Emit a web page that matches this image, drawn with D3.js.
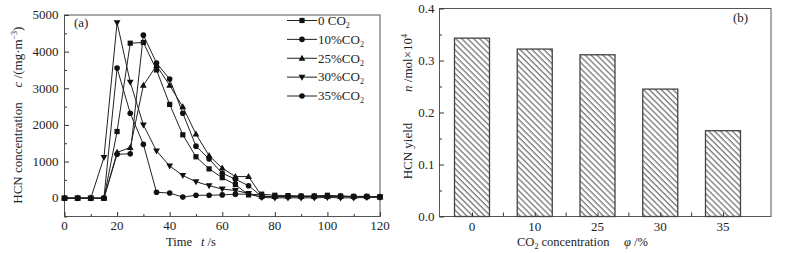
<!DOCTYPE html>
<html><head><meta charset="utf-8">
<script src="https://cdn.jsdelivr.net/npm/d3@7/dist/d3.min.js"></script>
<style>body{margin:0;background:#fff}svg{display:block}text{font-family:"Liberation Serif","Times New Roman",serif;fill:#222}</style>
</head><body>
<script>
// ---- data ----
const times = d3.range(0, 121, 5);
const seriesNames = ["0 CO", "10%CO", "25%CO", "30%CO", "35%CO"];
const s0  = [0,0,0,0,1820,4230,4250,3500,2560,1730,1130,800,560,370,90,110,80,70,60,60,80,60,50,50,40];
const s10 = [0,0,0,0,1200,1210,4450,3690,3250,2320,1420,1070,680,520,340,50,40,40,40,40,50,40,40,40,30];
const s25 = [0,0,0,0,1250,1380,3080,3620,3080,2490,1750,1160,820,590,590,60,40,50,40,50,40,50,40,40,30];
const s30 = [0,0,0,1110,4790,3170,2000,1290,880,620,450,340,250,210,130,20,10,10,10,10,20,10,10,20,30];
const s35 = [0,0,0,0,3550,2320,1470,160,140,30,80,80,90,110,110,30,50,50,50,50,50,50,40,40,30];
const markers = ["square","circle","triangle","triangleDown","circle"];
const xTicksA = [0,20,40,60,80,100,120];
const yTicksA = [0,1000,2000,3000,4000,5000];

const barCats = ["0","10","25","30","35"];
const barVals = [0.343,0.322,0.311,0.245,0.165];
const yTicksB = [0.0,0.1,0.2,0.3,0.4];

const W = 791, H = 253;
const svg = d3.select("body").append("svg").attr("width", W).attr("height", H);
const FS = 13, TS = 13, XS = 12.5;

// ---- pattern ----
const defs = svg.append("defs");
const pat = defs.append("pattern").attr("id","hatch").attr("patternUnits","userSpaceOnUse")
  .attr("width",4.2).attr("height",4.2).attr("patternTransform","rotate(-45)");
pat.append("rect").attr("width",4.2).attr("height",4.2).attr("fill","#fff");
pat.append("line").attr("x1",1).attr("y1",0).attr("x2",1).attr("y2",4.2).attr("stroke","#777").attr("stroke-width",1.3);

// ---- chart A ----
const A = {l:64.5, r:380, t:15, b:216.5};
const xA = d3.scaleLinear().domain([0,120]).range([A.l, A.r]);
const yA = d3.scaleLinear().domain([-500,5000]).range([A.b, A.t]);
const gA = svg.append("g");
gA.append("rect").attr("x",A.l).attr("y",A.t).attr("width",A.r-A.l).attr("height",A.b-A.t)
  .attr("fill","none").attr("stroke","#555").attr("stroke-width",1);
gA.append("g").attr("transform",`translate(${A.l},0)`).call(d3.axisRight(yA).tickValues(yTicksA).tickSize(4.5).tickFormat(""))
  .call(g=>g.select(".domain").remove()).selectAll("line").attr("stroke","#333");
gA.append("g").attr("transform",`translate(${A.l},0)`).call(d3.axisRight(yA).tickValues(d3.range(-500,5000,1000)).tickSize(2.5).tickFormat(""))
  .call(g=>g.select(".domain").remove()).selectAll("line").attr("stroke","#333");
gA.selectAll(".ylabA").data(yTicksA).join("text").attr("x",A.l-6).attr("y",d=>yA(d)+4.3)
  .attr("text-anchor","end").attr("font-size",FS).text(d=>d);
gA.append("g").attr("transform",`translate(0,${A.b})`).call(d3.axisTop(xA).tickValues(xTicksA).tickSize(4.5).tickFormat(""))
  .call(g=>g.select(".domain").remove()).selectAll("line").attr("stroke","#333");
gA.append("g").attr("transform",`translate(0,${A.b})`).call(d3.axisTop(xA).tickValues(d3.range(10,120,20)).tickSize(2.5).tickFormat(""))
  .call(g=>g.select(".domain").remove()).selectAll("line").attr("stroke","#333");
gA.selectAll(".xlabA").data(xTicksA).join("text").attr("x",d=>xA(d)).attr("y",A.b+13)
  .attr("text-anchor","middle").attr("font-size",FS).text(d=>d);
gA.append("text").attr("x",166).attr("y",246).attr("font-size",XS).text("Time");
const tt = gA.append("text").attr("x",201).attr("y",246).attr("font-size",XS);
tt.append("tspan").attr("font-style","italic").text("t");
tt.append("tspan").text(" /s");
gA.append("text").attr("transform","translate(22,153) rotate(-90)").attr("text-anchor","middle").attr("font-size",TS).text("HCN concentration");
const ct = gA.append("text").attr("transform","translate(22,57) rotate(-90)").attr("text-anchor","middle").attr("font-size",TS);
ct.append("tspan").attr("font-style","italic").text("c");
ct.append("tspan").text(" /(mg·m");
ct.append("tspan").attr("font-size",8).attr("dy",-5).text("−3");
ct.append("tspan").attr("dy",5).text(")");
gA.append("text").attr("x",74).attr("y",27).attr("font-size",FS).text("(a)");

function drawMarker(g, type, x, y){
  if(type==="square") g.append("rect").attr("x",x-2.6).attr("y",y-2.6).attr("width",5.2).attr("height",5.2).attr("fill","#111");
  else if(type==="circle") g.append("circle").attr("cx",x).attr("cy",y).attr("r",2.8).attr("fill","#111");
  else if(type==="triangle") g.append("path").attr("d",`M${x},${y-3.6}L${x+3.4},${y+2.4}L${x-3.4},${y+2.4}Z`).attr("fill","#111");
  else g.append("path").attr("d",`M${x},${y+3.6}L${x+3.4},${y-2.4}L${x-3.4},${y-2.4}Z`).attr("fill","#111");
}
const allSeries = [s0,s10,s25,s30,s35];
const line = d3.line().x((d,i)=>xA(times[i])).y(d=>yA(d));
allSeries.forEach((s,k)=>{
  gA.append("path").datum(s).attr("d",line).attr("fill","none").attr("stroke","#222").attr("stroke-width",1);
  const mg = gA.append("g");
  s.forEach((v,i)=>drawMarker(mg, markers[k], xA(times[i]), yA(v)));
});
const legY = d3.scalePoint().domain(seriesNames).range([20.5, 96]);
seriesNames.forEach((n,k)=>{
  const y = legY(n);
  gA.append("line").attr("x1",287).attr("x2",317).attr("y1",y).attr("y2",y).attr("stroke","#222").attr("stroke-width",1);
  drawMarker(gA, markers[k], 302, y);
  const t = gA.append("text").attr("x",318).attr("y",y+4.3).attr("font-size",FS);
  t.append("tspan").text(n);
  t.append("tspan").attr("font-size",8).attr("dy",3).text("2");
});

// ---- chart B ----
const B = {l:439.5, r:771, t:8.5, b:216.5};
const xB = d3.scalePoint().domain(barCats).range([472, 723]);
const yB = d3.scaleLinear().domain([0,0.4]).range([B.b, B.t]);
const gB = svg.append("g");
gB.append("rect").attr("x",B.l).attr("y",B.t).attr("width",B.r-B.l).attr("height",B.b-B.t)
  .attr("fill","none").attr("stroke","#555").attr("stroke-width",1);
gB.append("g").attr("transform",`translate(${B.l},0)`).call(d3.axisRight(yB).tickValues(yTicksB).tickSize(4.5).tickFormat(""))
  .call(g=>g.select(".domain").remove()).selectAll("line").attr("stroke","#333");
gB.append("g").attr("transform",`translate(${B.l},0)`).call(d3.axisRight(yB).tickValues([0.05,0.15,0.25,0.35]).tickSize(2.5).tickFormat(""))
  .call(g=>g.select(".domain").remove()).selectAll("line").attr("stroke","#333");
gB.selectAll(".ylabB").data(yTicksB).join("text").attr("x",B.l-5).attr("y",d=>yB(d)+4.3)
  .attr("text-anchor","end").attr("font-size",FS).text(d=>d.toFixed(1));
const bw = 35;
gB.selectAll(".bar").data(barVals).join("rect")
  .attr("x",(d,i)=>xB(barCats[i])-bw/2).attr("y",d=>yB(d)).attr("width",bw).attr("height",d=>B.b-yB(d))
  .attr("fill","url(#hatch)").attr("stroke","#444").attr("stroke-width",1.3);
gB.append("g").attr("transform",`translate(0,${B.b})`).call(d3.axisTop(xB).tickSize(4).tickFormat(""))
  .call(g=>g.select(".domain").remove()).selectAll("line").attr("stroke","#333");
const mids = barCats.slice(1).map((c,i)=>(xB(c)+xB(barCats[i]))/2);
gB.selectAll(".midtick").data(mids).join("line").attr("x1",d=>d).attr("x2",d=>d).attr("y1",B.b).attr("y2",B.b-4).attr("stroke","#333");
gB.selectAll(".xlabB").data(barCats).join("text").attr("x",d=>xB(d)).attr("y",B.b+14)
  .attr("text-anchor","middle").attr("font-size",FS).text(d=>d);
const xt = gB.append("text").attr("x",517).attr("y",246).attr("font-size",XS);
xt.append("tspan").text("CO");
xt.append("tspan").attr("font-size",8).attr("dy",3).text("2");
xt.append("tspan").attr("dy",-3).text(" concentration");
const pt = gB.append("text").attr("x",624).attr("y",246).attr("font-size",XS);
pt.append("tspan").attr("font-style","italic").text("φ");
pt.append("tspan").text(" /%");
gB.append("text").attr("transform","translate(412,151) rotate(-90)").attr("text-anchor","middle").attr("font-size",TS).text("HCN yield");
const nt = gB.append("text").attr("transform","translate(412,63) rotate(-90)").attr("text-anchor","middle").attr("font-size",TS);
nt.append("tspan").attr("font-style","italic").text("n");
nt.append("tspan").text(" /mol×10");
nt.append("tspan").attr("font-size",8).attr("dy",-5).text("4");
gB.append("text").attr("x",733).attr("y",22).attr("font-size",FS).text("(b)");
</script>
</body></html>
